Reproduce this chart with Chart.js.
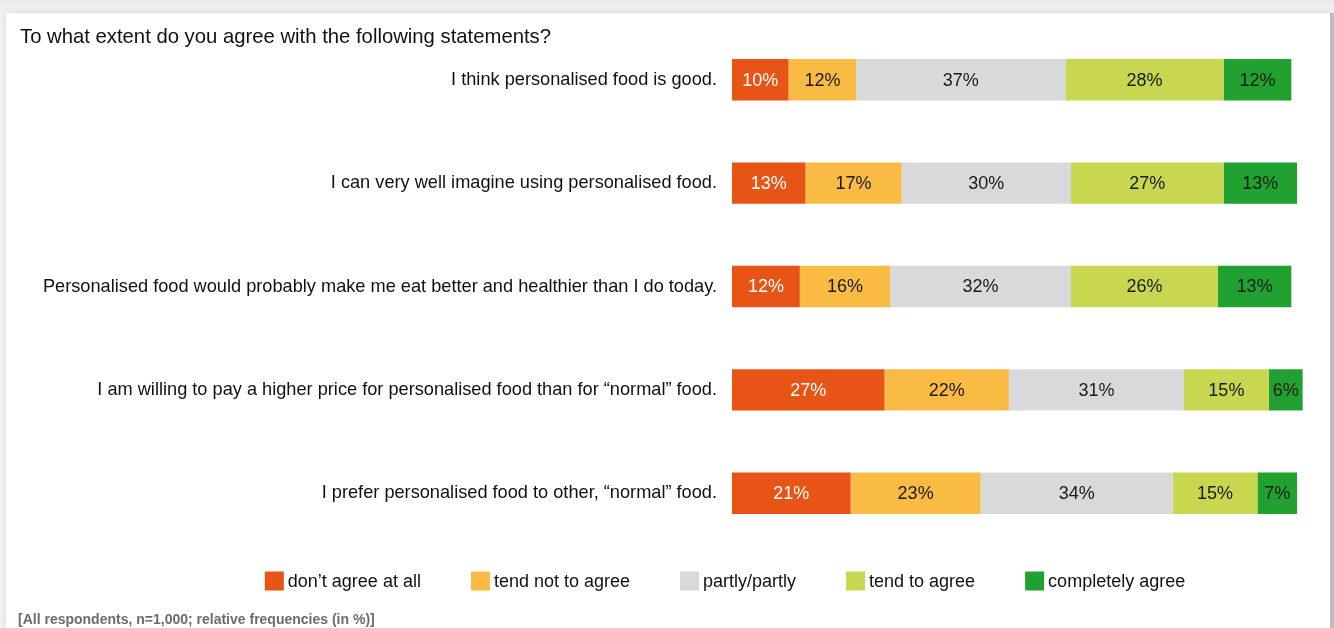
<!DOCTYPE html>
<html>
<head>
<meta charset="utf-8">
<script src="https://cdn.jsdelivr.net/npm/chart.js@4"></script>
<style>
  html, body { margin: 0; padding: 0; }
  body { width: 1334px; height: 628px; overflow: hidden; background: linear-gradient(#e9e9e9, #f4f4f4 13px, #f4f4f4); position: relative; }
  #card { position: absolute; left: 6px; top: 13px; width: 1324px; height: 615px; background: #fff; border-right: 4px solid #bdbdbd; box-shadow: 0 0 8px rgba(0,0,0,0.12); }
  canvas { display: block; }
</style>
</head>
<body>
<div id="card"><canvas id="agreement" width="1324" height="615"></canvas></div>
<script>
const statements = [
    'I think personalised food is good.',
    'I can very well imagine using personalised food.',
    'Personalised food would probably make me eat better and healthier than I do today.',
    'I am willing to pay a higher price for personalised food than for \u201cnormal\u201d food.',
    'I prefer personalised food to other, \u201cnormal\u201d food.'
];
const answers = ['don\u2019t agree at all', 'tend not to agree', 'partly/partly', 'tend to agree', 'completely agree'];
const dontAgree = [10, 13, 12, 27, 21];
const tendNot = [12, 17, 16, 22, 23];
const partly = [37, 30, 32, 31, 34];
const tendTo = [28, 27, 26, 15, 15];
const completely = [12, 13, 13, 6, 7];
const colors = ['#e85316', '#f9bb43', '#d8d9db', '#c9d64f', '#21a12f'];
const titleText = 'To what extent do you agree with the following statements?';
const footText = '[All respondents, n=1,000; relative frequencies (in %)]';

const FONT = '"Liberation Sans", Arial, sans-serif';

// percent labels in the middle of every segment
const segmentLabels = {
    id: 'segmentLabels',
    afterDatasetsDraw(chart) {
        const ctx = chart.ctx;
        ctx.save();
        ctx.font = '18px ' + FONT;
        ctx.textAlign = 'center';
        ctx.textBaseline = 'middle';
        chart.data.datasets.forEach((ds, i) => {
            ctx.fillStyle = i === 0 ? '#ffffff' : '#1a1a1a';
            chart.getDatasetMeta(i).data.forEach((bar, j) => {
                ctx.fillText(ds.data[j] + '%', (bar.x + bar.base) / 2, bar.y + 1);
            });
        });
        ctx.restore();
    }
};

// heading, legend row and footnote
const frameText = {
    id: 'frameText',
    afterDraw(chart) {
        const ctx = chart.ctx;
        ctx.save();
        ctx.textBaseline = 'middle';
        ctx.fillStyle = '#111';
        ctx.font = '20.3px ' + FONT;
        ctx.fillText(titleText, 14, 24);

        ctx.font = '18px ' + FONT;
        const box = 19, gap = 4, space = 50;
        const widths = chart.data.datasets.map(ds => box + gap + ctx.measureText(ds.label).width);
        const total = widths.reduce((a, b) => a + b, 0) + space * (widths.length - 1);
        let x = 719 - total / 2;
        const y = 568;
        chart.data.datasets.forEach((ds, i) => {
            ctx.fillStyle = ds.backgroundColor;
            ctx.fillRect(x, y - box / 2, box, box);
            ctx.fillStyle = '#111';
            ctx.fillText(ds.label, x + box + gap, y + 1);
            x += widths[i] + space;
        });

        ctx.font = 'bold 14px ' + FONT;
        ctx.fillStyle = '#6b6b6b';
        ctx.fillText(footText, 12, 607);
        ctx.restore();
    }
};

const series = [dontAgree, tendNot, partly, tendTo, completely];

new Chart(document.getElementById('agreement'), {
    type: 'bar',
    data: {
        labels: statements,
        datasets: series.map((values, i) => ({
            label: answers[i],
            data: values,
            backgroundColor: colors[i],
            borderWidth: 0,
            barPercentage: 0.4,
            categoryPercentage: 1,
            clip: false
        }))
    },
    options: {
        indexAxis: 'y',
        responsive: false,
        animation: false,
        layout: { padding: { left: 0, right: 33, top: 15, bottom: 83 } },
        plugins: {
            legend: { display: false },
            title: { display: false },
            tooltip: { enabled: false }
        },
        scales: {
            x: { stacked: true, min: 0, max: 100, display: false },
            y: {
                stacked: true,
                grid: { display: false, drawTicks: false },
                border: { display: false },
                ticks: { color: '#111', padding: 15, font: { family: FONT, size: 18.2 } },
                afterFit(scale) {
                    scale.width = 726;
                    scale.paddingTop = 0;
                    scale.paddingBottom = 0;
                }
            }
        }
    },
    plugins: [segmentLabels, frameText]
});
</script>
</body>
</html>
